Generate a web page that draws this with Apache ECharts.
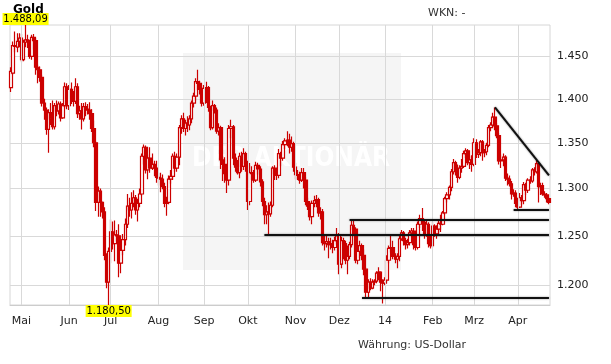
<!DOCTYPE html>
<html>
<head>
<meta charset="utf-8">
<script src="https://cdn.jsdelivr.net/npm/echarts@6/dist/echarts.min.js"></script>
<style>
html,body{margin:0;padding:0;background:#fff;}
#chart{width:611px;height:364px;}
</style>
</head>
<body>
<div id="chart"></div>
<script>
// Daily candles [open, close, low, high] in US-Dollar, one row per weekday
const apr13 = [[1413,1432,1408,1437],[1430,1463,1428,1468],[1463,1462,1455,1480],[1461,1468,1455,1478],[1468,1472,1461,1478]];
const may13 = [[1472,1446,1443,1477],[1446,1467,1444,1470],[1467,1470,1461,1488.09],[1470,1468,1460,1476],[1468,1450,1447,1470],[1450,1473,1446,1476],[1473,1469,1458,1477],[1469,1437,1428,1472],[1437,1434,1418,1440],[1434,1425,1420,1438],[1425,1395,1391,1428],[1395,1387,1376,1400],[1387,1365,1359,1390],[1365,1384,1339,1388],[1384,1377,1370,1395],[1377,1368,1365,1398],[1368,1392,1365,1395],[1392,1386,1380,1398],[1386,1394,1382,1397],[1394,1378,1374,1397],[1378,1392,1377,1395],[1392,1414,1390,1419],[1414,1392,1388,1418]];
const jun13 = [[1392,1411,1387,1416],[1411,1398,1394,1419],[1398,1397,1391,1409],[1397,1414,1394,1424],[1414,1383,1378,1418],[1383,1386,1376,1392],[1386,1377,1365,1395],[1377,1391,1374,1395],[1391,1388,1380,1396],[1388,1387,1382,1394],[1387,1383,1376,1396],[1383,1366,1362,1388],[1366,1350,1345,1375],[1350,1285,1276,1352],[1285,1297,1270,1302],[1297,1285,1270,1300],[1285,1275,1268,1286],[1275,1230,1225,1280],[1230,1203,1197,1232],[1203,1234,1180.5,1238]];
const jul13 = [[1234,1254,1222,1267],[1254,1242,1236,1265],[1242,1251,1224,1266],[1251,1250,1244,1256],[1250,1222,1208,1262],[1222,1235,1212,1245],[1235,1246,1230,1252],[1246,1262,1240,1268],[1262,1281,1258,1294],[1281,1277,1270,1290],[1277,1284,1268,1296],[1284,1290,1280,1298],[1290,1277,1272,1293],[1277,1284,1265,1289],[1284,1294,1280,1300],[1294,1335,1292,1338],[1335,1345,1326,1348],[1345,1320,1316,1347],[1320,1333,1310,1337],[1333,1322,1317,1345],[1322,1326,1320,1338],[1326,1322,1313,1330],[1322,1312,1306,1330]];
const aug13 = [[1312,1311,1303,1317],[1311,1310,1296,1317],[1310,1302,1299,1315],[1302,1284,1280,1306],[1284,1285,1271,1291],[1285,1310,1283,1314],[1310,1313,1305,1320],[1313,1335,1309,1338],[1335,1322,1318,1340],[1322,1334,1318,1338],[1334,1367,1325,1370],[1367,1377,1360,1381],[1377,1366,1362,1384],[1366,1372,1358,1376],[1372,1370,1362,1380],[1370,1377,1364,1381],[1377,1395,1372,1398],[1395,1403,1390,1407],[1403,1420,1398,1424],[1420,1418,1410,1434],[1418,1411,1405,1421],[1411,1395,1391,1413]];
const sep13 = [[1395,1412,1392,1416],[1412,1413,1395,1420],[1413,1390,1385,1415],[1390,1367,1364,1392],[1367,1392,1365,1398],[1392,1387,1383,1394],[1387,1363,1360,1390],[1363,1367,1358,1372],[1367,1331,1321,1369],[1331,1326,1308,1335],[1326,1316,1306,1334],[1316,1309,1295,1320],[1309,1366,1303,1370],[1366,1368,1355,1376],[1368,1333,1325,1370],[1333,1323,1318,1338],[1323,1317,1315,1331],[1317,1335,1311,1339],[1335,1324,1318,1340],[1324,1338,1320,1344],[1338,1327,1318,1340]];
const oct13 = [[1327,1286,1277,1330],[1286,1317,1282,1325],[1317,1316,1309,1324],[1316,1309,1306,1320],[1309,1325,1307,1329],[1325,1321,1315,1328],[1321,1307,1302,1324],[1307,1286,1281,1310],[1286,1272,1262,1290],[1272,1275,1262,1282],[1275,1273,1251.5,1285],[1273,1282,1270,1286],[1282,1322,1280,1324],[1322,1316,1309,1325],[1316,1314,1309,1320],[1314,1338,1311,1343],[1338,1333,1324,1340],[1333,1348,1330,1352],[1348,1352,1343,1355],[1352,1353,1346,1363],[1353,1345,1338,1360],[1345,1349,1340,1357],[1349,1323,1318,1351]];
const nov13 = [[1323,1315,1310,1328],[1315,1314,1309,1320],[1314,1309,1305,1318],[1309,1317,1307,1322],[1317,1309,1300,1322],[1309,1286,1282,1312],[1286,1281,1277,1290],[1281,1270,1266,1285],[1270,1284,1262,1287],[1284,1287,1280,1292],[1287,1288,1280,1293],[1288,1274,1270,1290],[1274,1275,1267,1280],[1275,1243,1240,1278],[1243,1242,1235,1250],[1242,1244,1238,1250],[1244,1241,1227,1248],[1241,1242,1236,1248],[1242,1238,1232,1246],[1238,1245,1235,1249],[1245,1250,1241,1258]];
const dec13 = [[1250,1221,1211,1253],[1221,1245,1217,1249],[1245,1242,1226,1248],[1242,1225,1221,1245],[1225,1229,1211,1240],[1229,1241,1226,1244],[1241,1261,1238,1267],[1261,1257,1250,1266],[1257,1225,1222,1259],[1225,1234,1221,1240],[1234,1240,1227,1245],[1240,1230,1225,1242],[1230,1216,1210,1236],[1216,1193,1187,1218],[1193,1203,1188,1206],[1203,1197,1195,1207],[1197,1203,1196,1206],[1203,1204,1200,1206],[1204,1212,1202,1214],[1212,1213,1205,1218],[1213,1203,1194,1214],[1203,1202,1182,1206]];
const jan14 = [[1202,1205,1200,1208],[1205,1225,1203,1230],[1225,1237,1222,1240],[1237,1238,1233,1252],[1238,1229,1226,1245],[1229,1226,1222,1232],[1226,1229,1217,1232],[1229,1247,1224,1251],[1247,1253,1245,1256],[1253,1245,1240,1255],[1245,1241,1236,1248],[1241,1243,1237,1247],[1243,1253,1240,1256],[1253,1255,1249,1258],[1255,1241,1236,1258],[1241,1238,1235,1245],[1238,1262,1236,1265],[1262,1268,1258,1272],[1268,1264,1255,1279],[1264,1251,1247,1266],[1251,1262,1249,1266],[1262,1242,1238,1264],[1242,1240,1237,1250]];
const feb14 = [[1240,1260,1238,1264],[1260,1252,1249,1262],[1252,1257,1247,1261],[1257,1263,1252,1266],[1263,1262,1254,1272],[1262,1274,1261,1276],[1274,1289,1272,1291],[1289,1293,1285,1296],[1293,1301,1288,1303],[1301,1318,1297,1321],[1318,1328,1315,1332],[1328,1320,1314,1330],[1320,1312,1306,1326],[1312,1322,1310,1325],[1322,1324,1317,1332],[1324,1338,1322,1341],[1338,1341,1333,1344],[1341,1328,1325,1343],[1328,1331,1321,1335],[1331,1326,1318,1336]];
const mar14 = [[1326,1350,1324,1355],[1350,1337,1333,1354],[1337,1339,1333,1343],[1339,1351,1335,1353],[1351,1339,1330,1353],[1339,1340,1334,1343],[1340,1347,1336,1350],[1347,1367,1345,1370],[1367,1370,1363,1373],[1370,1379,1367,1384],[1379,1369,1364,1390],[1369,1358,1355,1372],[1358,1330,1326,1361],[1330,1331,1322,1337],[1331,1334,1324,1338],[1334,1311,1308,1336],[1311,1310,1303,1316],[1310,1305,1302,1314],[1305,1294,1288,1308],[1294,1295,1291,1299],[1295,1284,1280,1298]];
const apr14 = [[1284,1280,1277,1290],[1280,1290,1279,1295],[1290,1287,1282,1293],[1287,1304,1283,1307],[1304,1298,1293,1306],[1298,1309,1295,1311],[1309,1308,1305,1313],[1308,1320,1306,1322],[1320,1318,1314,1323],[1318,1327,1316,1331],[1327,1302,1285,1329],[1302,1303,1293,1306],[1303,1294,1292,1306],[1294,1293,1290,1297],[1293,1289,1285,1295],[1289,1285,1283,1291]];

const firstDay = '2013-04-24';
const lastDay = '2014-04-22';
const monthLabels = ['Mai','Jun','Jul','Aug','Sep','Okt','Nov','Dez','14','Feb','Mrz','Apr'];
const yTicks = [1200, 1250, 1300, 1350, 1400, 1450];
const yMin = 1180.5, yMax = 1488.09;

// support / resistance lines: [startIndex, startValue, endIndex, endValue]
const supportLines = [
  [122, 1251.5, 259, 1251.5],
  [163, 1267, 259, 1267],
  [169, 1187.4, 259, 1187.4],
  [242, 1277, 259, 1277]
];
const trendLine = [233, 1390, 259, 1314];

// weekday calendar
const dates = [];
{
  let d = new Date(firstDay + 'T00:00:00Z');
  const end = new Date(lastDay + 'T00:00:00Z');
  while (d <= end) {
    const wd = d.getUTCDay();
    if (wd !== 0 && wd !== 6) dates.push(d.toISOString().slice(0, 10));
    d = new Date(d.getTime() + 86400000);
  }
}
const candles = [].concat(apr13, may13, jun13, jul13, aug13, sep13, oct13, nov13, dec13, jan14, feb14, mar14, apr14);

const monthStartIdx = [];
for (let i = 1; i < dates.length; i++) {
  if (dates[i].slice(5, 7) !== dates[i - 1].slice(5, 7)) monthStartIdx.push(i);
}
const labelOf = {};
monthStartIdx.forEach((idx, k) => { labelOf[idx] = monthLabels[k]; });

function deFmt(v, dec) {
  const parts = v.toFixed(dec).split('.');
  return parts[0].replace(/\B(?=(\d{3})+(?!\d))/g, '.') + (parts[1] ? ',' + parts[1] : '');
}

const RED = '#cc0000';
const lineStyleBlack = { color: '#111', width: 2, type: 'solid', shadowColor: 'rgba(0,0,0,0.45)', shadowBlur: 2 };

const chart = echarts.init(document.getElementById('chart'), null, { renderer: 'canvas' });
chart.setOption({
  animation: false,
  backgroundColor: '#fff',
  textStyle: { fontFamily: 'DejaVu Sans' },
  grid: { left: 10, right: 61, top: 25, bottom: 59, show: true, borderColor: '#d6d6d6', borderWidth: 1, backgroundColor: 'transparent' },
  graphic: [
    { type: 'rect', left: 183, top: 53, shape: { width: 218, height: 217 }, style: { fill: '#f5f5f5' }, z: -1, silent: true },
    { type: 'text', left: 192, top: 146, style: { text: 'DER AKTIONÄR', fill: '#ffffff', font: 'bold 26px "DejaVu Sans Condensed", "Liberation Sans Narrow", sans-serif' }, z: -1, silent: true },
    { type: 'text', left: 13, top: 4, style: { text: 'Gold', fill: '#000', font: 'bold 12px "DejaVu Sans"' } },
    { type: 'text', left: 428, top: 8, style: { text: 'WKN: -', fill: '#333', font: '11px "DejaVu Sans"' } },
    { type: 'text', left: 358, top: 340, style: { text: 'Währung: US-Dollar', fill: '#333', font: '11px "DejaVu Sans"' } }
  ],
  xAxis: {
    type: 'category',
    data: dates,
    boundaryGap: true,
    axisLine: { show: true, lineStyle: { color: '#cccccc' } },
    axisTick: { show: false },
    splitLine: { show: false },
    axisLabel: {
      interval: (idx) => labelOf[idx] !== undefined,
      formatter: (val, idx) => labelOf[idx] || '',
      color: '#222', fontSize: 11, fontFamily: 'DejaVu Sans', margin: 11
    }
  },
  yAxis: {
    type: 'log',
    logBase: 10,
    min: yMin,
    max: yMax,
    position: 'right',
    axisLine: { show: false },
    axisTick: { show: false, customValues: yTicks },
    splitLine: { show: true, lineStyle: { color: '#d9d9d9', width: 1 } },
    axisLabel: {
      customValues: yTicks,
      formatter: v => deFmt(v, 0),
      color: '#222', fontSize: 11, fontFamily: 'DejaVu Sans', margin: 7
    }
  },
  series: [
    {
      type: 'line',
      data: [],
      z: 1,
      silent: true,
      markLine: {
        silent: true,
        symbol: 'none',
        label: { show: false },
        lineStyle: { color: '#d9d9d9', width: 1, type: 'solid' },
        data: monthStartIdx.map(i => ({ xAxis: dates[i] }))
      }
    },
    {
      type: 'candlestick',
      data: candles,
      z: 3,
      barWidth: 3,
      itemStyle: { color: '#ffffff', color0: RED, borderColor: RED, borderColor0: RED, borderWidth: 1.2 },
      markLine: {
        silent: true,
        symbol: 'none',
        label: { show: false },
        lineStyle: lineStyleBlack,
        data: supportLines.concat([trendLine]).map(l => [
          { coord: [dates[l[0]], l[1]] },
          { coord: [dates[l[2]], l[3]] }
        ])
      },
      markPoint: {
        silent: true,
        symbol: 'rect',
        symbolSize: [46, 12],
        itemStyle: { color: '#ffff00' },
        label: { show: true, position: 'inside', color: '#000', fontSize: 10, fontFamily: 'DejaVu Sans', formatter: p => deFmt(p.value, 2) },
        data: [
          { type: 'max', valueDim: 'highest', symbolOffset: [0, -6] },
          { type: 'min', valueDim: 'lowest', symbolOffset: [0, 6] }
        ]
      }
    }
  ]
});
</script>
</body>
</html>
